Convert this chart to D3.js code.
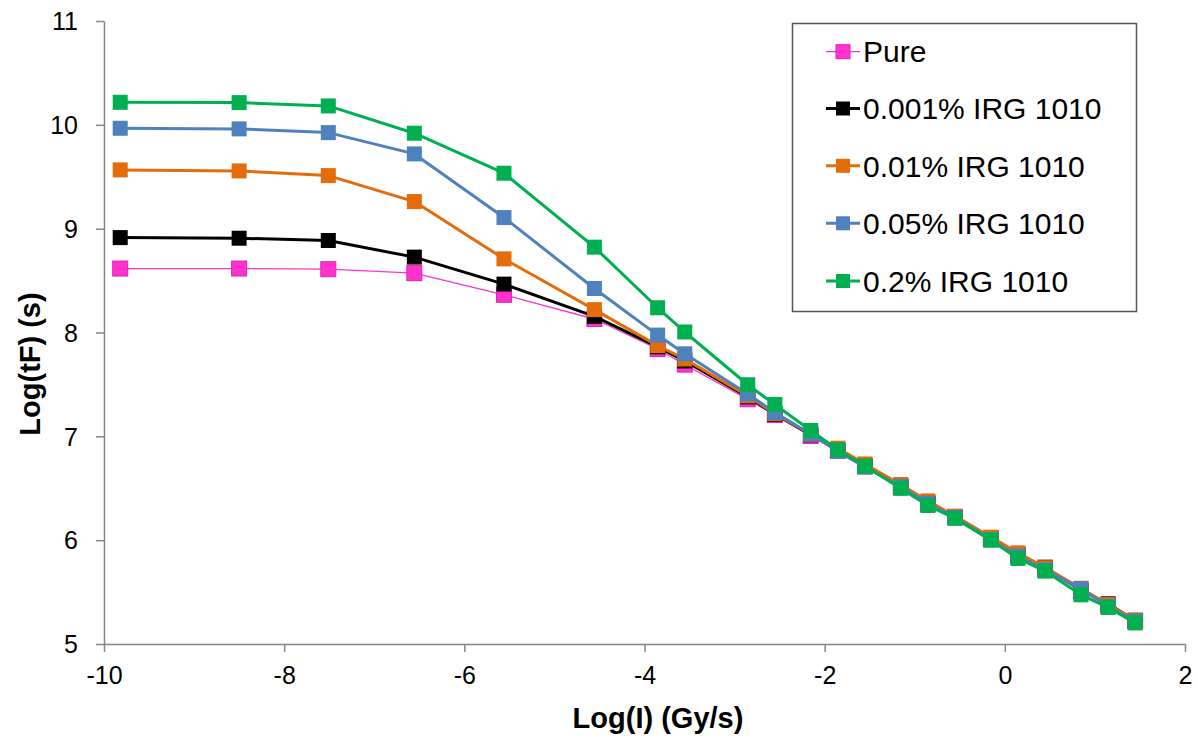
<!DOCTYPE html>
<html>
<head>
<meta charset="utf-8">
<script src="https://cdn.jsdelivr.net/npm/d3@7"></script>
<style>
  html, body { margin: 0; padding: 0; background: #fff; }
  svg { display: block; }
  text { font-family: Arial, "Liberation Sans", sans-serif; }
</style>
</head>
<body>
<svg id="chart" width="1198" height="738"></svg>
<script>
// ---- Data ----
const logI = [-9.82, -8.50, -7.51, -6.555, -5.56, -4.556, -3.854, -3.553, -2.854, -2.553, -2.155,
              -1.854, -1.553, -1.155, -0.854, -0.553, -0.155, 0.146, 0.447, 0.845, 1.146, 1.447];

const pure   = [8.616, 8.616, 8.610, 8.572, 8.363, 8.130, 7.841, 7.691, 7.357, 7.206, 7.004,
                6.860, 6.710, 6.510, 6.350, 6.220, 6.010, 5.850, 5.720, 5.510, 5.370, 5.220];
const irg001 = [8.914, 8.908, 8.886, 8.726, 8.466, 8.155, 7.862, 7.726, 7.380, 7.212, 7.015,
                6.870, 6.720, 6.520, 6.360, 6.225, 6.020, 5.860, 5.740, 5.520, 5.387, 5.225];
const irg01  = [9.566, 9.556, 9.511, 9.261, 8.709, 8.220, 7.874, 7.745, 7.390, 7.218, 7.020,
                6.886, 6.734, 6.536, 6.378, 6.231, 6.029, 5.878, 5.735, 5.537, 5.380, 5.233];
const irg05  = [9.967, 9.961, 9.925, 9.720, 9.107, 8.424, 7.975, 7.795, 7.408, 7.228, 7.023,
                6.855, 6.705, 6.517, 6.355, 6.220, 6.007, 5.846, 5.714, 5.531, 5.363, 5.221];
const irg2   = [10.217, 10.214, 10.182, 9.919, 9.534, 8.822, 8.238, 8.005, 7.497, 7.307, 7.056,
                6.871, 6.714, 6.499, 6.334, 6.210, 6.000, 5.824, 5.702, 5.474, 5.352, 5.203];

const seriesNames = ["Pure", "0.001% IRG 1010", "0.01% IRG 1010", "0.05% IRG 1010", "0.2% IRG 1010"];
const seriesValues = [pure, irg001, irg01, irg05, irg2];
const seriesColors = ["#FF33CC", "#000000", "#E46C0A", "#4F81BD", "#00B050"];
const seriesStroke = ["#E61EBE", "#000000", "#E46C0A", "#4F81BD", "#00B050"];
const seriesWidths = [1.3, 3, 3, 3, 3];

const xTicks = [-10, -8, -6, -4, -2, 0, 2];
const yTicks = [5, 6, 7, 8, 9, 10, 11];
const xTitle = "Log(I) (Gy/s)";
const yTitle = "Log(tF) (s)";

// ---- Layout ----
const svg = d3.select("#chart");
const plotL = 104, plotR = 1185, plotT = 21, plotB = 644;
const x = d3.scaleLinear().domain([-10, 2]).range([plotL, plotR]);
const y = d3.scaleLinear().domain([5, 11]).range([plotB, plotT]);
const axisColor = "#868686";
const fmt = d => String(d);

// Axes
const xAxis = svg.append("g").attr("transform", `translate(0,${plotB})`)
  .call(d3.axisBottom(x).tickValues(xTicks).tickSizeOuter(0).tickSizeInner(8).tickPadding(14).tickFormat(fmt));
const yAxis = svg.append("g").attr("transform", `translate(${plotL},0)`)
  .call(d3.axisLeft(y).tickValues(yTicks).tickSizeOuter(0).tickSizeInner(8).tickPadding(18).tickFormat(fmt));
[xAxis, yAxis].forEach(g => {
  g.select(".domain").attr("stroke", axisColor).attr("stroke-width", 1.5);
  g.selectAll(".tick line").attr("stroke", axisColor).attr("stroke-width", 1.5);
  g.selectAll(".tick text").attr("fill", "#000").style("font-size", "25px")
    .style("font-family", "Arial, 'Liberation Sans', sans-serif");
});
yAxis.selectAll(".tick text").attr("dy", "0.35em");

// Titles
svg.append("text").attr("x", 658).attr("y", 728).attr("text-anchor", "middle")
  .style("font-size", "29px").style("font-weight", "bold").text(xTitle);
svg.append("text").attr("transform", "translate(40,364) rotate(-90)").attr("text-anchor", "middle")
  .style("font-size", "29px").style("font-weight", "bold").text(yTitle);

// Series
const line = d3.line().x((d, i) => x(logI[i])).y(d => y(d));
const ms = 15;
seriesValues.forEach((vals, si) => {
  const g = svg.append("g");
  g.append("path").datum(vals).attr("d", line).attr("fill", "none")
    .attr("stroke", seriesColors[si]).attr("stroke-width", seriesWidths[si]).attr("stroke-linejoin", "round");
  g.selectAll("rect").data(vals).join("rect")
    .attr("x", (d, i) => x(logI[i]) - ms / 2).attr("y", d => y(d) - ms / 2)
    .attr("width", ms).attr("height", ms)
    .attr("fill", seriesColors[si]).attr("stroke", seriesStroke[si]).attr("stroke-width", si === 0 ? 1 : 0);
});

// Legend
const lg = svg.append("g");
lg.append("rect").attr("x", 792.5).attr("y", 23.5).attr("width", 344).attr("height", 288)
  .attr("fill", "#fff").attr("stroke", "#555").attr("stroke-width", 1.5);
const rowY = [51.7, 108.5, 165.8, 223.3, 281];
seriesNames.forEach((name, i) => {
  const ry = rowY[i];
  lg.append("line").attr("x1", 826).attr("x2", 860).attr("y1", ry).attr("y2", ry)
    .attr("stroke", seriesColors[i]).attr("stroke-width", seriesWidths[i]);
  lg.append("rect").attr("x", 843 - 7).attr("y", ry - 7).attr("width", 14).attr("height", 14)
    .attr("fill", seriesColors[i]).attr("stroke", seriesStroke[i]).attr("stroke-width", i === 0 ? 1 : 0);
  lg.append("text").attr("x", 863).attr("y", ry + 10.7).style("font-size", "30px").attr("fill", "#000").text(name);
});
</script>
</body>
</html>
